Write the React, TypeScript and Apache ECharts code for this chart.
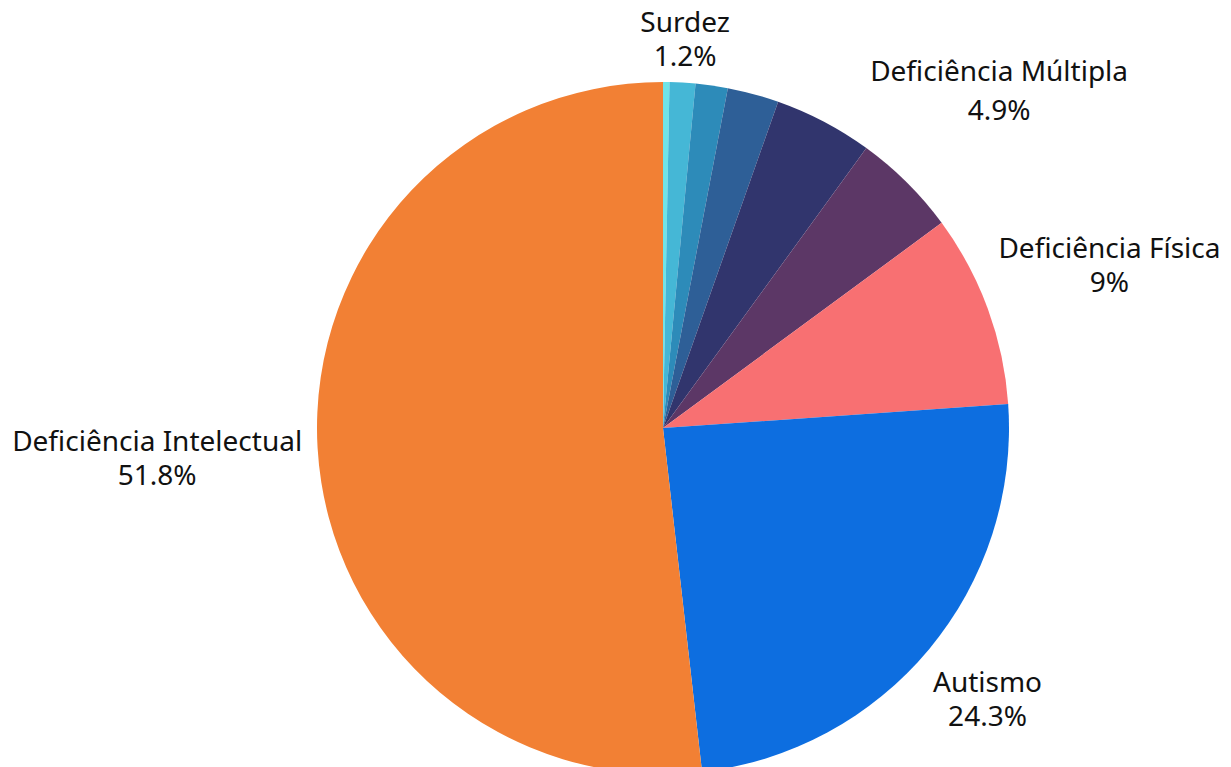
import React, { useEffect, useRef } from "react";
import * as echarts from "echarts";

const names = [
  "Surdocegueira",
  "Surdez",
  "Deficiência Auditiva",
  "Baixa Visão",
  "Cegueira",
  "Deficiência Múltipla",
  "Deficiência Física",
  "Autismo",
  "Deficiência Intelectual",
];
const values = [0.3, 1.2, 1.5, 2.4, 4.6, 4.9, 9, 24.3, 51.8];
const colors = [
  "#6fe4e8",
  "#45b7d6",
  "#2d8bb9",
  "#2e5f97",
  "#31356d",
  "#5c3766",
  "#f87072",
  "#0d6ee0",
  "#f28034",
];
const showLabel = [false, true, false, false, false, true, true, true, true];

const CX = 663;
const CY = 428;
const R = 346;
const GAP = 8;
const HPAD = 6;
const LINE_H = 34;
const WIDE_LINE_H = 39;

export default function App() {
  const ref = useRef<HTMLDivElement>(null);
  useEffect(() => {
    if (!ref.current) return;
    const chart = echarts.init(ref.current, null, { renderer: "svg" });
    const total = values.reduce((a, b) => a + b, 0);
    const mids: number[] = [];
    let acc = 0;
    values.forEach((v) => {
      mids.push(((acc + v / 2) / total) * Math.PI * 2);
      acc += v;
    });
    chart.setOption({
      animation: false,
      backgroundColor: "#ffffff",
      series: [
        {
          type: "pie",
          center: [CX, CY],
          radius: R,
          startAngle: 90,
          clockwise: true,
          avoidLabelOverlap: false,
          label: {
            show: true,
            position: "outside",
            formatter: (p: any) => `${p.name}\n${p.value}%`,
            fontFamily: "Noto Sans",
            fontSize: 28,
            lineHeight: LINE_H,
            color: "#111111",
            align: "center",
          },
          labelLine: { show: false },
          labelLayout: (params: any) => {
            const a = mids[params.dataIndex];
            const dx = Math.sin(a);
            const dy = -Math.cos(a);
            const w = params.labelRect.width / 2 + HPAD;
            const h = params.labelRect.height / 2;
            const support = w * Math.abs(dx) + h * Math.abs(dy);
            const d = R + GAP + support;
            return {
              x: CX + dx * d,
              y: CY + dy * d,
              align: "center",
              verticalAlign: "middle",
            };
          },
          itemStyle: { borderWidth: 0 },
          data: names.map((n, i) => ({
            name: n,
            value: values[i],
            itemStyle: { color: colors[i] },
            label: {
              show: showLabel[i],
              lineHeight: n === "Deficiência Múltipla" ? WIDE_LINE_H : LINE_H,
            },
          })),
        },
      ],
    });
    return () => chart.dispose();
  }, []);
  return (
    <div
      ref={ref}
      style={{ position: "absolute", left: 0, top: 0, width: 1231, height: 767 }}
    />
  );
}
